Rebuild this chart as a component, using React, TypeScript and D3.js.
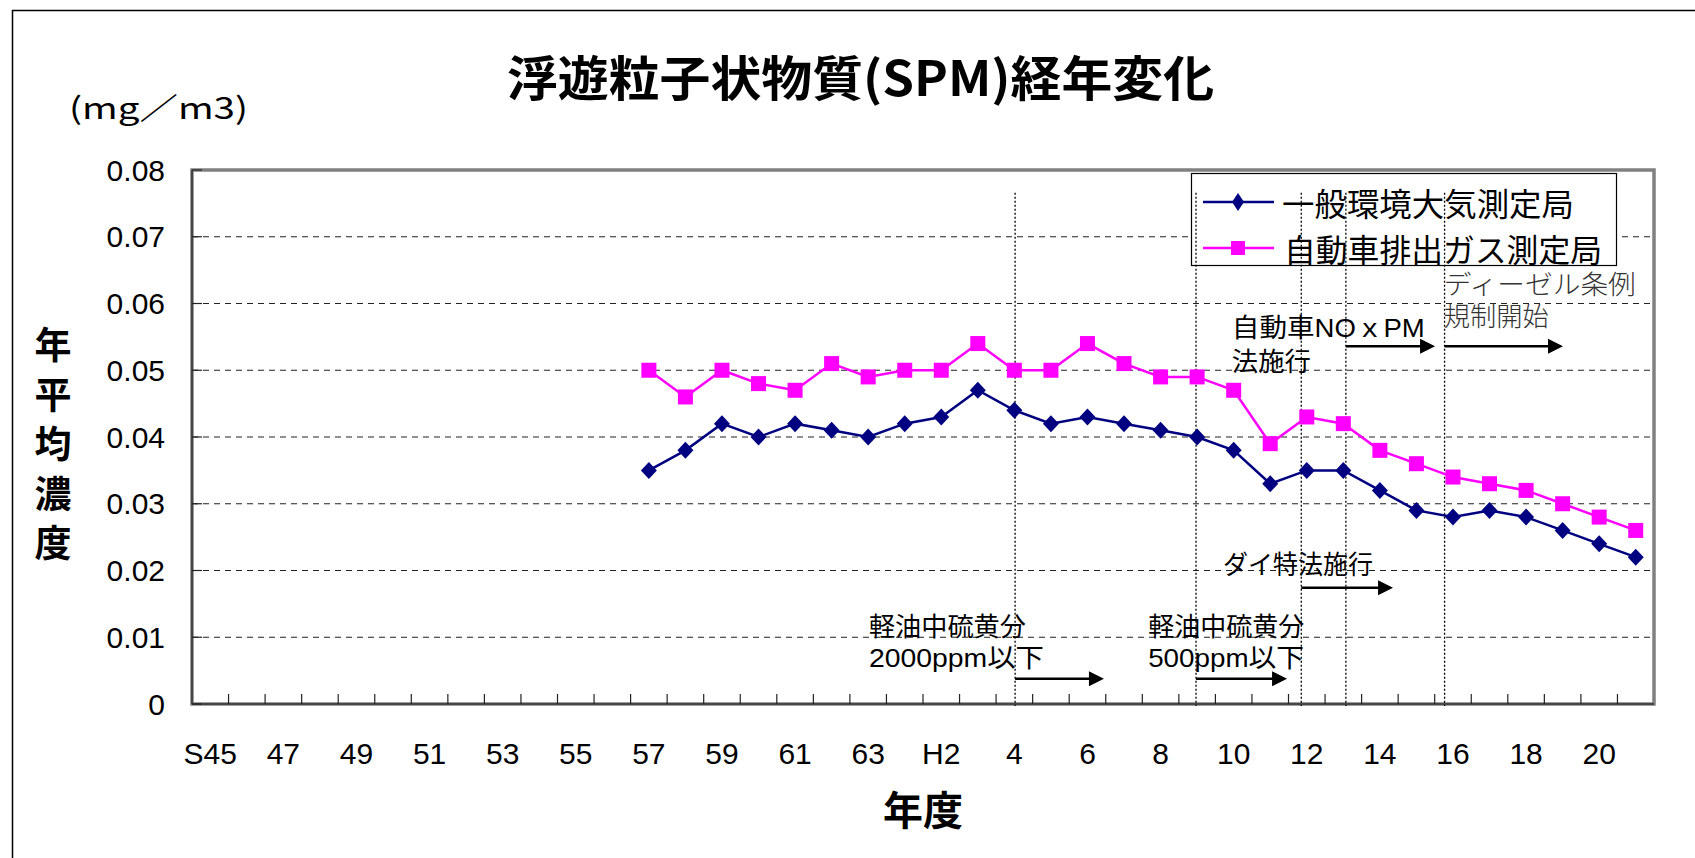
import React from "react";
import { scaleLinear, line, range } from "d3";

// 年度 (S45 .. H21)
const categories = [
  "S45", "S46", "S47", "S48", "S49", "S50", "S51", "S52", "S53", "S54",
  "S55", "S56", "S57", "S58", "S59", "S60", "S61", "S62", "S63", "H1",
  "H2", "H3", "H4", "H5", "H6", "H7", "H8", "H9", "H10", "H11",
  "H12", "H13", "H14", "H15", "H16", "H17", "H18", "H19", "H20", "H21",
];

// labels shown on every other category
const tickLabels = [
  "S45", "47", "49", "51", "53", "55", "57", "59", "61", "63",
  "H2", "4", "6", "8", "10", "12", "14", "16", "18", "20",
];

const yTicks = [0, 0.01, 0.02, 0.03, 0.04, 0.05, 0.06, 0.07, 0.08];

// measured years
const dataYears = [
  "S57", "S58", "S59", "S60", "S61", "S62", "S63", "H1", "H2", "H3",
  "H4", "H5", "H6", "H7", "H8", "H9", "H10", "H11", "H12", "H13",
  "H14", "H15", "H16", "H17", "H18", "H19", "H20", "H21",
];

// 一般環境大気測定局
const generalValues = [
  0.035, 0.038, 0.042, 0.040, 0.042, 0.041, 0.040, 0.042, 0.043, 0.047,
  0.044, 0.042, 0.043, 0.042, 0.041, 0.040, 0.038, 0.033, 0.035, 0.035,
  0.032, 0.029, 0.028, 0.029, 0.028, 0.026, 0.024, 0.022,
];

// 自動車排出ガス測定局
const roadsideValues = [
  0.050, 0.046, 0.050, 0.048, 0.047, 0.051, 0.049, 0.050, 0.050, 0.054,
  0.050, 0.050, 0.054, 0.051, 0.049, 0.049, 0.047, 0.039, 0.043, 0.042,
  0.038, 0.036, 0.034, 0.033, 0.032, 0.030, 0.028, 0.026,
];

// regulation events: start / arrow end in category units, arrow height in mg/m3
const events = [
  { start: 22.52, end: 24.95, level: 0.0038 },
  { start: 27.47, end: 29.96, level: 0.0038 },
  { start: 30.35, end: 32.86, level: 0.0174 },
  { start: 31.57, end: 34.01, level: 0.0536 },
  { start: 34.27, end: 37.51, level: 0.0536 },
];

// annotation text: anchor in category units / mg/m3
const notes = [
  { text: "軽油中硫黄分", at: 18.52, level: 0.0116, len: 157, light: false },
  { text: "2000ppm以下", at: 18.52, level: 0.0069, len: 175, light: false },
  { text: "軽油中硫黄分", at: 26.16, level: 0.0116, len: 156, light: false },
  { text: "500ppm以下", at: 26.16, level: 0.0069, len: 156, light: false },
  { text: "ダイ特法施行", at: 28.21, level: 0.0208, len: 150, light: false },
  { text: "自動車NOｘPM", at: 28.45, level: 0.0563, len: 193, light: false },
  { text: "法施行", at: 28.45, level: 0.0512, len: 79, light: false },
  { text: "ディーゼル条例", at: 34.25, level: 0.0628, len: 192, light: true },
  { text: "規制開始", at: 34.25, level: 0.058, len: 105, light: true },
];

const JP = "'Noto Sans CJK JP', 'Noto Sans', sans-serif";
const NUM = "'Liberation Sans', Arial, 'Noto Sans CJK JP', sans-serif";

const BLUE = "#000080";
const PINK = "#FF00FF";

const App = () => {
  const left = 192;
  const right = 1654;
  const top = 170;
  const bottom = 704;

  const x = scaleLinear().domain([0, categories.length]).range([left, right]);
  const y = scaleLinear().domain([0, 0.08]).range([bottom, top]);
  const cx = (i: number) => x(i + 0.5);

  const idx = (yr: string) => categories.indexOf(yr);
  const general = dataYears.map((d, i) => ({ i: idx(d), v: generalValues[i] }));
  const roadside = dataYears.map((d, i) => ({ i: idx(d), v: roadsideValues[i] }));

  const lineGen = line<{ i: number; v: number }>()
    .x((d) => cx(d.i))
    .y((d) => y(d.v));

  const diamond = (px: number, py: number, w: number, h: number) =>
    `M${px},${py - h} L${px + w},${py} L${px},${py + h} L${px - w},${py} Z`;

  const yTitle = ["年", "平", "均", "濃", "度"];

  return (
    <svg
      width={1695}
      height={858}
      style={{ position: "absolute", left: 0, top: 0, background: "#fff" }}
    >
      {/* outer frame */}
      <rect x={12.5} y={10.5} width={1800} height={900} fill="#fff" stroke="#000" strokeWidth={1.5} />

      {/* title */}
      <text
        x={507}
        y={75}
        fontFamily={JP}
        fontWeight={700}
        fontSize={48}
        dominantBaseline="central"
        textLength={707}
        lengthAdjust="spacingAndGlyphs"
      >
        浮遊粒子状物質(SPM)経年変化
      </text>

      {/* unit */}
      <text
        x={69}
        y={106}
        fontFamily={JP}
        fontSize={30}
        dominantBaseline="central"
        textLength={179}
        lengthAdjust="spacingAndGlyphs"
      >
        (mg／m3)
      </text>

      {/* y axis title */}
      {yTitle.map((c, k) => (
        <text
          key={c}
          x={53}
          y={343 + k * 49.5}
          fontFamily={JP}
          fontWeight={700}
          fontSize={37}
          textAnchor="middle"
          dominantBaseline="central"
        >
          {c}
        </text>
      ))}

      {/* x axis title */}
      <text
        x={923}
        y={808}
        fontFamily={JP}
        fontWeight={700}
        fontSize={40}
        textAnchor="middle"
        dominantBaseline="central"
      >
        年度
      </text>

      {/* grid */}
      {yTicks
        .filter((t) => t > 0 && t < 0.08)
        .map((t) => (
          <line
            key={t}
            x1={left}
            x2={right}
            y1={y(t)}
            y2={y(t)}
            stroke="#222"
            strokeWidth={1.2}
            strokeDasharray="6,5"
          />
        ))}

      {/* plot border */}
      <rect x={left} y={top} width={right - left} height={bottom - top} fill="none" stroke="#808080" strokeWidth={3.5} />
      <line x1={left} x2={left} y1={top} y2={bottom} stroke="#333" strokeWidth={1.5} />
      <line x1={left} x2={right} y1={bottom} y2={bottom} stroke="#333" strokeWidth={1.5} />

      {/* y ticks + labels */}
      {yTicks.map((t) => (
        <g key={t}>
          <line x1={left} x2={left + 10} y1={y(t)} y2={y(t)} stroke="#222" strokeWidth={1.2} />
          <text
            x={165}
            y={y(t)}
            fontFamily={NUM}
            fontSize={30}
            textAnchor="end"
            dominantBaseline="central"
          >
            {t === 0 ? "0" : t.toFixed(2)}
          </text>
        </g>
      ))}

      {/* x ticks */}
      {range(1, categories.length).map((k) => (
        <line key={k} x1={x(k)} x2={x(k)} y1={bottom} y2={bottom - 10} stroke="#222" strokeWidth={1.2} />
      ))}
      {tickLabels.map((lab, k) => (
        <text
          key={lab}
          x={cx(k * 2)}
          y={753}
          fontFamily={NUM}
          fontSize={30}
          textAnchor="middle"
          dominantBaseline="central"
        >
          {lab}
        </text>
      ))}

      {/* legend */}
      <rect x={1191.5} y={173.5} width={425} height={92} fill="#fff" stroke="#000" strokeWidth={1.2} />
      <line x1={1203} x2={1274} y1={202} y2={202} stroke={BLUE} strokeWidth={2.5} />
      <path d={diamond(1238, 202, 6, 9)} fill={BLUE} />
      <text
        x={1282}
        y={202}
        fontFamily={JP}
        fontSize={32}
        dominantBaseline="central"
        textLength={292}
        lengthAdjust="spacingAndGlyphs"
      >
        一般環境大気測定局
      </text>
      <line x1={1203} x2={1274} y1={248} y2={248} stroke={PINK} strokeWidth={2.5} />
      <rect x={1231} y={241} width={14} height={14} fill={PINK} />
      <text
        x={1284}
        y={248}
        fontFamily={JP}
        fontSize={32}
        dominantBaseline="central"
        textLength={318}
        lengthAdjust="spacingAndGlyphs"
      >
        自動車排出ガス測定局
      </text>

      {/* event lines */}
      {events.map((e, k) => (
        <line
          key={k}
          x1={x(e.start)}
          x2={x(e.start)}
          y1={y(0.0766)}
          y2={bottom + 2}
          stroke="#000"
          strokeWidth={1.3}
          strokeDasharray="2,2"
        />
      ))}

      {/* series */}
      <path d={lineGen(roadside) || ""} fill="none" stroke={PINK} strokeWidth={2.5} />
      {roadside.map((d) => (
        <rect key={d.i} x={cx(d.i) - 7.5} y={y(d.v) - 7.5} width={15} height={15} fill={PINK} />
      ))}
      <path d={lineGen(general) || ""} fill="none" stroke={BLUE} strokeWidth={2.5} />
      {general.map((d) => (
        <path key={d.i} d={diamond(cx(d.i), y(d.v), 8, 8.5)} fill={BLUE} />
      ))}

      {/* annotations */}
      {notes.map((n, k) => (
        <text
          key={k}
          x={x(n.at)}
          y={y(n.level)}
          fontFamily={NUM}
          fontSize={26}
          fontWeight={n.light ? 300 : 400}
          fill={n.light ? "#333" : "#000"}
          dominantBaseline="central"
          textLength={n.len}
          lengthAdjust="spacingAndGlyphs"
        >
          {n.text}
        </text>
      ))}

      {/* arrows */}
      {events.map((e, k) => {
        const x1 = x(e.start);
        const x2 = x(e.end);
        const yy = y(e.level);
        return (
          <g key={k}>
            <line x1={x1} x2={x2 - 12} y1={yy} y2={yy} stroke="#000" strokeWidth={2.5} />
            <path d={`M${x2},${yy} L${x2 - 15},${yy - 7.5} L${x2 - 15},${yy + 7.5} Z`} fill="#000" />
          </g>
        );
      })}
    </svg>
  );
};

export default App;
